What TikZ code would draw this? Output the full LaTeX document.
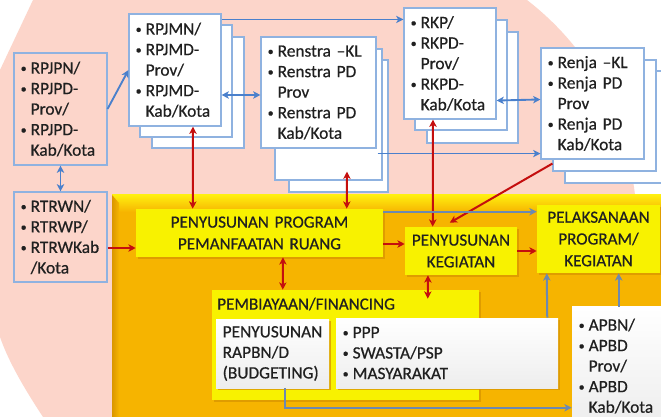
\documentclass[tikz,border=0pt]{standalone}
\usepackage{fontspec}
\setmainfont{Carlito}[FakeBold=0.6]
\usetikzlibrary{arrows.meta,calc,shadows}

\definecolor{pinkbg}{HTML}{FCD5CA}
\definecolor{goldbg}{HTML}{F6B400}
\definecolor{goldtop}{HTML}{FFEE10}
\definecolor{goldedge}{HTML}{DA9700}
\definecolor{yel}{HTML}{F8F200}
\definecolor{boxline}{HTML}{8FB2E0}
\definecolor{linkblue}{HTML}{4A80CC}
\definecolor{linkgray}{HTML}{6D89B0}
\definecolor{linkred}{HTML}{C40E0E}
\definecolor{txt}{HTML}{202020}

\newcommand\bodyfont{\fontsize{13}{15.4}\selectfont}
\newcommand\capsfont{\fontsize{12.8}{16.3}\selectfont}
\newcommand\itemdot{\makebox[7.5pt][l]{\raisebox{1pt}{\fontsize{9}{9}\selectfont •}}}
\newcommand\itemgap{\hspace*{7.5pt}}

% box from pixel corners (x1,y1)-(x2,y2)
\newcommand\mkbox[7][]{%
  \pgfmathsetmacro\bxw{(#5-#3)*0.75}%
  \pgfmathsetmacro\bxh{(#6-#4)*0.75}%
  \pgfmathsetmacro\bxt{\bxw-10}%
  \node[minimum width=\bxw pt, minimum height=\bxh pt, text width=\bxt pt,
        inner xsep=5pt, inner ysep=2pt, #1] (#2) at ({(#3+#5)/2},{(#4+#6)/2}) {#7};}

\begin{document}
\begin{tikzpicture}[x=0.75pt,y=-0.75pt,
  upbox/.style={draw=boxline, line width=0.8pt, fill=white, align=left, font=\bodyfont, text=txt},
  pinkbox/.style={upbox, fill=none},
  yelbox/.style={fill=yel, align=center, font=\capsfont, text=txt,
    drop shadow={shadow xshift=1.5pt, shadow yshift=-1.5pt, fill=goldedge, opacity=0.8}},
  wbox/.style={top color=white, bottom color=black!7, align=left, font=\bodyfont, text=txt,
    drop shadow={shadow xshift=1.5pt, shadow yshift=-1.5pt, fill=goldedge, opacity=0.8}},
  tipk/.tip={Stealth[length=5.5pt,width=5.5pt,inset=1.5pt]},
  blink/.style={draw=linkblue, line width=1.4pt, -tipk},
  blinkd/.style={draw=linkblue, line width=1.4pt, tipk-tipk},
  glink/.style={draw=linkgray, line width=1.5pt, -tipk},
  rlink/.style={draw=linkred, line width=1.5pt, -tipk},
  rlinkd/.style={draw=linkred, line width=1.5pt, tipk-tipk}]

\useasboundingbox (0,0) rectangle (661,417);

% background areas
\begin{scope}
  \clip (0,0) rectangle (661,417);
  \fill[white] (0,0) rectangle (661,417);
  \fill[pinkbg] (33,0) -- (527,0) .. controls (585,45) and (625,110) .. (635,195)
    -- (645,430) -- (50,430) -- (43,417) .. controls (22,385) and (8,360) .. (0,337)
    .. controls (-25,260) and (-25,140) .. (0,70) -- cycle;
  \fill[goldbg] (112,195) rectangle (680,430);
  \shade[top color=goldtop, bottom color=goldbg] (112,195) rectangle (680,212);
  \shade[left color=goldedge, right color=goldbg] (112,195) -- (119,203) -- (119,430) -- (112,430) -- cycle;
\end{scope}

% planning documents
\mkbox[pinkbox]{rpjpn}{14}{53}{107}{165}{\itemdot RPJPN/\\ \itemdot RPJPD-\\ \itemgap Prov/\\ \itemdot RPJPD-\\ \itemgap Kab/Kota}
\mkbox[pinkbox]{rtrwn}{14}{192}{107}{282}{\itemdot RTRWN/\\ \itemdot RTRWP/\\ \itemdot RTRWKab\\ \itemgap /Kota}

\mkbox[upbox]{rpjmnC}{152}{37}{244}{148}{}
\mkbox[upbox]{rpjmnB}{140}{25}{232}{137}{}
\mkbox[upbox]{rpjmn}{129}{14}{221}{126}{\itemdot RPJMN/\\ \itemdot RPJMD-\\ \itemgap Prov/\\ \itemdot RPJMD-\\ \itemgap Kab/Kota}

\mkbox[upbox]{renstraC}{289}{60}{388}{192}{}
\mkbox[upbox]{renstraB}{275}{49}{382}{180}{}
\mkbox[upbox]{renstra}{261}{37}{376}{148}{\itemdot Renstra –KL\\ \itemdot Renstra PD\\ \itemgap Prov\\ \itemdot Renstra PD\\ \itemgap Kab/Kota}

\mkbox[upbox]{rkpC}{427}{32}{518}{143}{}
\mkbox[upbox]{rkpB}{415}{20}{507}{130}{}
\mkbox[upbox]{rkp}{404}{8}{496}{119}{\itemdot RKP/\\ \itemdot RKPD-\\ \itemgap Prov/\\ \itemdot RKPD-\\ \itemgap Kab/Kota}

\mkbox[upbox]{renjaC}{565}{71}{668}{183}{}
\mkbox[upbox]{renjaB}{553}{60}{656}{171}{}
\mkbox[upbox]{renja}{541}{48}{644}{159}{\itemdot Renja –KL\\ \itemdot Renja PD\\ \itemgap Prov\\ \itemdot Renja PD\\ \itemgap Kab/Kota}

% programme and activity boxes
\mkbox[yelbox]{ppr}{136}{209}{383}{257}{PENYUSUNAN PROGRAM\\PEMANFAATAN RUANG}
\mkbox[yelbox]{keg}{405}{227}{517}{275}{PENYUSUNAN\\KEGIATAN}
\mkbox[yelbox]{pel}{537}{205}{660}{273}{PELAKSANAAN\\PROGRAM/\\KEGIATAN}
\mkbox[yelbox]{fin}{212}{290}{479}{400}{}
\node[anchor=west, font=\capsfont, text=txt, inner sep=0pt] (fintitle) at (217,304) {PEMBIAYAAN/FINANCING};
\mkbox[wbox]{rapbn}{216}{319}{329}{388}{PENYUSUNAN\\RAPBN/D\\(BUDGETING)}
\mkbox[wbox, inner xsep=3pt]{ppp}{336}{318}{558}{388}{\itemdot PPP\\ \itemdot SWASTA/PSP\\ \itemdot MASYARAKAT}
\mkbox[wbox]{apbn}{572}{307}{668}{425}{\itemdot APBN/\\ \itemdot APBD\\ \itemgap Prov/\\ \itemdot APBD\\ \itemgap Kab/Kota}

% links between planning documents
\draw[blink] (rpjpn.east) -- (rpjmn.west);
\draw[blinkd] (rpjpn.south) -- (rtrwn.north);
\draw[blinkd] ($(rpjmn.east)+(0,25)$) -- ($(renstra.west)+(0,2.5)$);
\draw[blink] ($(rpjmn.north east)+(0,6)$) -- ($(rkp.north west)+(0,12)$);
\draw[blinkd] ($(rkp.south east)+(0,-19)$) -- ($(renja.north west)+(0,52)$);
\draw[blink] ($(renstraB.south east)+(-5,-27)$) -- ($(renja.south west)+(0,-6)$);

% links into the programme boxes
\draw[rlinkd] ($(rpjmn.south)+(18,0)$) -- ($(ppr.north west)+(57,0)$);
\draw[rlinkd] ($(renstraB.south)+(18.5,-9)$) -- ($(ppr.north west)+(211,0)$);
\draw[rlinkd] ($(rkp.south)+(-17,0)$) -- ($(keg.north west)+(28,0)$);
\draw[rlink] ($(renja.south west)+(12,4)$) -- ($(keg.north west)+(45,-4)$);
\draw[rlink] ($(rtrwn.east)+(0,11)$) -- ($(ppr.west)+(0,15)$);
\draw[rlink] ($(ppr.east)+(0,11)$) -- ($(keg.west)+(0,-7)$);
\draw[rlink] (keg.east) -- ($(pel.west)+(0,12)$);
\draw[rlinkd] ($(ppr.south)+(23.5,0)$) -- ($(fin.north west)+(71,0)$);
\draw[rlinkd] ($(keg.south)+(-33,0)$) -- ($(fin.north west)+(216,9)$);

% funding links
\draw[glink] ($(ppr.north east)+(0,3)$) -- ($(pel.north west)+(0,7)$);
\draw[glink] ($(ppp.north east)+(-11,0)$) -- ($(pel.south west)+(10,0)$);
\draw[glink] ($(apbn.north west)+(47,0)$) -- ($(pel.south west)+(82,0)$);
\draw[glink] ($(rapbn.south)+(12.5,0)$) |- ($(apbn.north west)+(0,101)$);

\end{tikzpicture}
\end{document}
